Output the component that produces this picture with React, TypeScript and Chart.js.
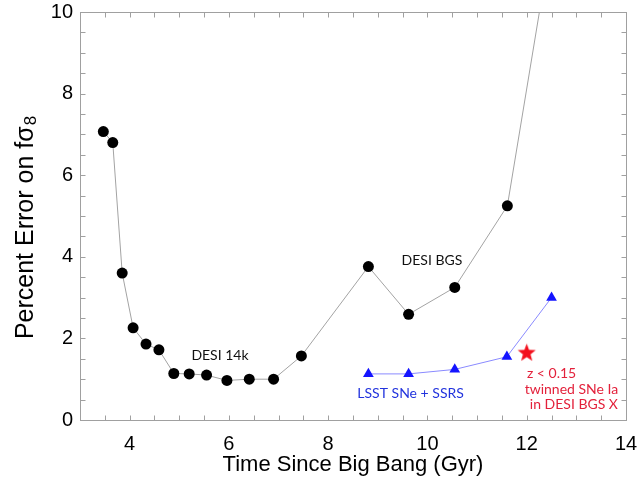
import React, { useEffect, useRef } from "react";
import { Chart, registerables } from "chart.js";

Chart.register(...registerables);

// DESI (14k + BGS) forecast: time since Big Bang (Gyr) vs percent error on f sigma_8
const desiTime = [3.47, 3.66, 3.85, 4.07, 4.33, 4.59, 4.89, 5.2, 5.55, 5.96, 6.41, 6.9, 7.46, 8.81, 9.62, 10.55, 11.61, 12.5];
const desiError = [7.07, 6.8, 3.6, 2.26, 1.86, 1.72, 1.14, 1.13, 1.1, 0.97, 1.0, 1.0, 1.57, 3.76, 2.59, 3.25, 5.25, 11.8];

// LSST SNe + SSRS
const lsstTime = [8.81, 9.62, 10.55, 11.6, 12.5];
const lsstError = [1.13, 1.13, 1.24, 1.55, 3.0];

// z < 0.15 twinned SNe Ia in DESI BGS
const twinTime = [12.0];
const twinError = [1.64];

// Axis tick labels
const xLabels = [4, 6, 8, 10, 12, 14];
const yLabels = [0, 2, 4, 6, 8, 10];

const xTitle = "Time Since Big Bang (Gyr)";
const yTitleMain = "Percent Error on fσ";
const yTitleSub = "8";

// In-plot annotations (data coordinates)
const annotations = [
  { text: "DESI 14k", x: 5.82, y: 1.59, color: "#111111" },
  { text: "DESI BGS", x: 10.09, y: 3.92, color: "#111111" },
  { text: "LSST SNe + SSRS", x: 9.66, y: 0.64, color: "#2233dd" },
  { text: "z < 0.15", x: 12.5, y: 1.15, color: "#e3213b" },
  { text: "twinned SNe Ia", x: 12.9, y: 0.74, color: "#e3213b" },
  { text: "in DESI BGS X", x: 12.95, y: 0.37, color: "#e3213b" },
];

function makeStar(r: number, color: string) {
  const c = document.createElement("canvas");
  const s = Math.ceil(2 * r + 2);
  c.width = s;
  c.height = s;
  const g = c.getContext("2d")!;
  g.fillStyle = color;
  g.beginPath();
  for (let i = 0; i < 10; i++) {
    const rad = i % 2 === 0 ? r : r * 0.42;
    const ang = -Math.PI / 2 + (i * Math.PI) / 5;
    g.lineTo(s / 2 + rad * Math.cos(ang), s / 2 + rad * Math.sin(ang));
  }
  g.closePath();
  g.fill();
  return c;
}

const framePlugin = {
  id: "frameTicks",
  beforeDatasetsDraw(chart: any) {
    const { ctx, chartArea: a, scales } = chart;
    const xs = scales.x;
    const ys = scales.y;
    ctx.save();
    ctx.strokeStyle = "#a0a0a0";
    ctx.lineWidth = 1;
    const L = Math.round(a.left) + 0.5;
    const R = Math.round(a.right) + 0.5;
    const T = Math.round(a.top) + 0.5;
    const B = Math.round(a.bottom) + 0.5;
    ctx.strokeRect(L, T, R - L, B - T);
    const tl = 5;
    ctx.beginPath();
    xs.ticks.forEach((t: any) => {
      const px = Math.round(xs.getPixelForValue(t.value)) + 0.5;
      ctx.moveTo(px, B);
      ctx.lineTo(px, B - tl);
      ctx.moveTo(px, T);
      ctx.lineTo(px, T + tl);
    });
    ys.ticks.forEach((t: any) => {
      const py = Math.round(ys.getPixelForValue(t.value)) + 0.5;
      ctx.moveTo(L, py);
      ctx.lineTo(L + tl, py);
      ctx.moveTo(R, py);
      ctx.lineTo(R - tl, py);
    });
    ctx.stroke();
    ctx.restore();
  },
  afterDatasetsDraw(chart: any) {
    const { ctx, chartArea: a, scales } = chart;
    const xs = scales.x;
    const ys = scales.y;
    ctx.save();
    // annotations
    ctx.font = "14px Lato";
    ctx.textAlign = "center";
    ctx.textBaseline = "middle";
    annotations.forEach((an) => {
      ctx.fillStyle = an.color;
      ctx.fillText(an.text, xs.getPixelForValue(an.x), ys.getPixelForValue(an.y));
    });
    // x title
    ctx.fillStyle = "#000";
    ctx.font = "22px 'Liberation Sans'";
    ctx.textAlign = "center";
    ctx.textBaseline = "middle";
    ctx.fillText(xTitle, (a.left + a.right) / 2, 465);
    // y title with subscript
    ctx.translate(26, 228);
    ctx.rotate(-Math.PI / 2);
    ctx.textAlign = "left";
    ctx.textBaseline = "middle";
    ctx.font = "25px 'Liberation Sans'";
    const w1 = ctx.measureText(yTitleMain).width;
    ctx.font = "17px 'Liberation Sans'";
    const w2 = ctx.measureText(yTitleSub).width;
    const start = -(w1 + w2) / 2;
    ctx.font = "25px 'Liberation Sans'";
    ctx.fillText(yTitleMain, start, 0);
    ctx.font = "17px 'Liberation Sans'";
    ctx.fillText(yTitleSub, start + w1 + 1, 5);
    ctx.restore();
  },
};

export default function App() {
  const ref = useRef<HTMLCanvasElement>(null);
  useEffect(() => {
    if (!ref.current) return;
    const star = makeStar(9.5, "#f3101c");
    const chart = new Chart(ref.current, {
      type: "scatter",
      data: {
        datasets: [
          {
            data: desiTime.map((t, i) => ({ x: t, y: desiError[i] })),
            showLine: true,
            borderColor: "#a3a3a3",
            borderWidth: 1,
            pointRadius: 5.5,
            pointStyle: "circle",
            pointBackgroundColor: "#000000",
            pointBorderColor: "#000000",
            pointBorderWidth: 0,
          },
          {
            data: lsstTime.map((t, i) => ({ x: t, y: lsstError[i] })),
            showLine: true,
            borderColor: "#8a8aff",
            borderWidth: 1,
            pointRadius: 6.2,
            pointStyle: "triangle",
            pointBackgroundColor: "#1414ff",
            pointBorderColor: "#1414ff",
            pointBorderWidth: 0,
          },
          {
            data: twinTime.map((t, i) => ({ x: t, y: twinError[i] })),
            showLine: false,
            pointStyle: star as any,
            pointRadius: 10,
          },
        ],
      },
      options: {
        animation: false,
        responsive: true,
        maintainAspectRatio: false,
        events: [],
        layout: { padding: 0 },
        plugins: { legend: { display: false }, tooltip: { enabled: false } },
        scales: {
          x: {
            type: "linear",
            min: 3,
            max: 14,
            grid: { display: false, drawTicks: false },
            border: { display: false },
            ticks: {
              stepSize: 0.5,
              autoSkip: false,
              maxRotation: 0,
              padding: 12,
              color: "#000",
              font: { family: "'Liberation Sans'", size: 20 },
              callback: (v: any) => (xLabels.includes(Number(v)) ? String(v) : ""),
            },
            afterFit: (s: any) => {
              s.height = 58;
              s.paddingLeft = 0;
              s.paddingRight = 11;
            },
          },
          y: {
            type: "linear",
            min: 0,
            max: 10,
            grid: { display: false, drawTicks: false },
            border: { display: false },
            ticks: {
              stepSize: 0.5,
              autoSkip: false,
              padding: 7,
              color: "#000",
              font: { family: "'Liberation Sans'", size: 20 },
              callback: (v: any) => (yLabels.includes(Number(v)) ? String(v) : ""),
            },
            afterFit: (s: any) => {
              s.width = 80;
              s.paddingTop = 12;
              s.paddingBottom = 0;
            },
          },
        },
      },
      plugins: [framePlugin],
    });
    return () => chart.destroy();
  }, []);
  return (
    <div style={{ position: "fixed", left: 0, top: 0, width: 637, height: 478, background: "#fff" }}>
      <canvas ref={ref} />
    </div>
  );
}
